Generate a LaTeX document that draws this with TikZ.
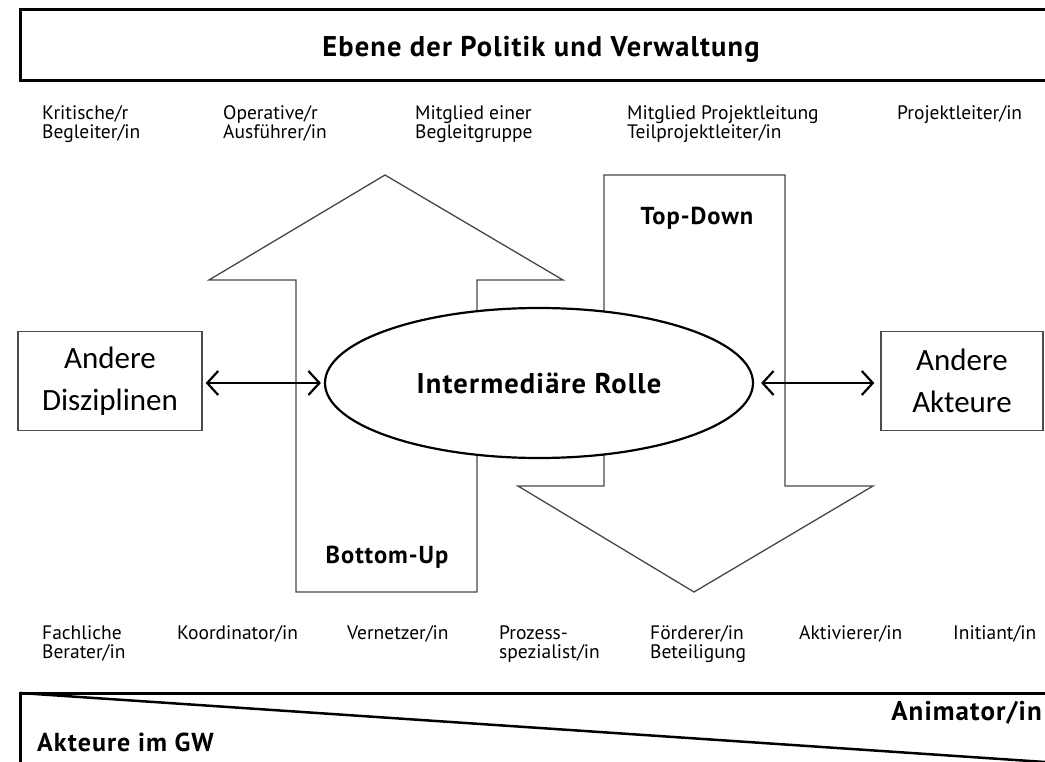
\documentclass[tikz,border=0pt]{standalone}
\usepackage{fontspec}
\setmainfont{PT Sans}
\newfontfamily\boxfont{Carlito}
\newfontfamily\headfont[LetterSpace=4]{PT Sans Bold}
\usetikzlibrary{arrows.meta,shapes.geometric}
\begin{document}
\begin{tikzpicture}[x=1pt,y=-1pt,
  lbl/.style={anchor=north west, align=left, inner sep=0, font=\fontsize{19.5}{19}\selectfont},
  bigbold/.style={inner sep=0, font=\headfont\fontsize{28.5}{30}\selectfont},
  midbold/.style={inner sep=0, font=\headfont\fontsize{24.5}{26}\selectfont},
  flowarrow/.style={draw=black!72, line width=1.3pt, fill=white, line join=miter},
  sidebox/.style={draw=black!70, line width=1.4pt, fill=white, align=center, inner sep=0,
    font=\boxfont\fontsize{31}{42}\selectfont},
  band/.style={line width=3pt, draw=black},
  dbl/.style={line width=2.2pt, {Straight Barb[length=11pt,width=24pt]}-{Straight Barb[length=11pt,width=24pt]}}
]
\useasboundingbox (0,0) rectangle (1045,762);
\fill[white] (0,0) rectangle (1045,762);

% top band
\draw[band] (1045,10) -- (20,10) -- (20,81) -- (1045,81);
\node[bigbold, anchor=base] (title) at (541,57) {Ebene der Politik und Verwaltung};

% upper labels
\node[lbl] (u1) at (42,105) {Kritische/r\\Begleiter/in};
\node[lbl] (u2) at (223,105) {Operative/r\\Ausführer/in};
\node[lbl] (u3) at (415,105) {Mitglied einer\\Begleitgruppe};
\node[lbl] (u4) at (627,105) {Mitglied Projektleitung\\Teilprojektleiter/in};
\node[lbl] (u5) at (897,105) {Projektleiter/in};

% big arrows
\draw[flowarrow] (296,592) -- (296,280) -- (209,280) -- (385,175) -- (563,280)
  -- (477,280) -- (477,592) -- cycle;
\draw[flowarrow] (604,175) -- (785,175) -- (785,486) -- (873,486) -- (694,592)
  -- (518,486) -- (604,486) -- cycle;
\node[midbold] (bu) at (387,557) {Bottom-Up};
\node[midbold] (td) at (697,218) {Top-Down};

% central ellipse
\node[ellipse, draw=black, line width=2.2pt, fill=white, minimum width=428,
  minimum height=150, inner sep=0, bigbold] (role) at (539,383) {Intermediäre Rolle};

% side boxes
\node[sidebox, minimum width=184, minimum height=99] (disz) at (110,381) {Andere\\Disziplinen};
\node[sidebox, minimum width=162, minimum height=99] (akt) at (962,381) {Andere\\Akteure};

\draw[dbl, shorten <=3pt, shorten >=3pt] (role.west -| disz.east) -- (role.west);
\draw[dbl, shorten <=7pt, shorten >=6pt] (role.east) -- (role.east -| akt.west);

% lower labels
\node[lbl] (l1) at (42,625) {Fachliche\\Berater/in};
\node[lbl] (l2) at (177,625) {Koordinator/in};
\node[lbl] (l3) at (347,625) {Vernetzer/in};
\node[lbl] (l4) at (499,625) {Prozess-\\spezialist/in};
\node[lbl] (l5) at (650,625) {Förderer/in\\Beteiligung};
\node[lbl] (l6) at (799,625) {Aktivierer/in};
\node[lbl] (l7) at (953,625) {Initiant/in};

% bottom band
\coordinate (bl) at (20,693);
\coordinate (br) at (1045,762);
\draw[band] (1045,693) -- (bl) -- (20,770);
\draw[line width=2.5pt] (bl) -- (br);
\node[bigbold, font=\headfont\fontsize{27}{30}\selectfont, anchor=base east] (anim) at (1042,720) {Animator/in};
\node[bigbold, font=\headfont\fontsize{26}{30}\selectfont, anchor=base west] (agw) at (37,751) {Akteure im GW};
\end{tikzpicture}
\end{document}
